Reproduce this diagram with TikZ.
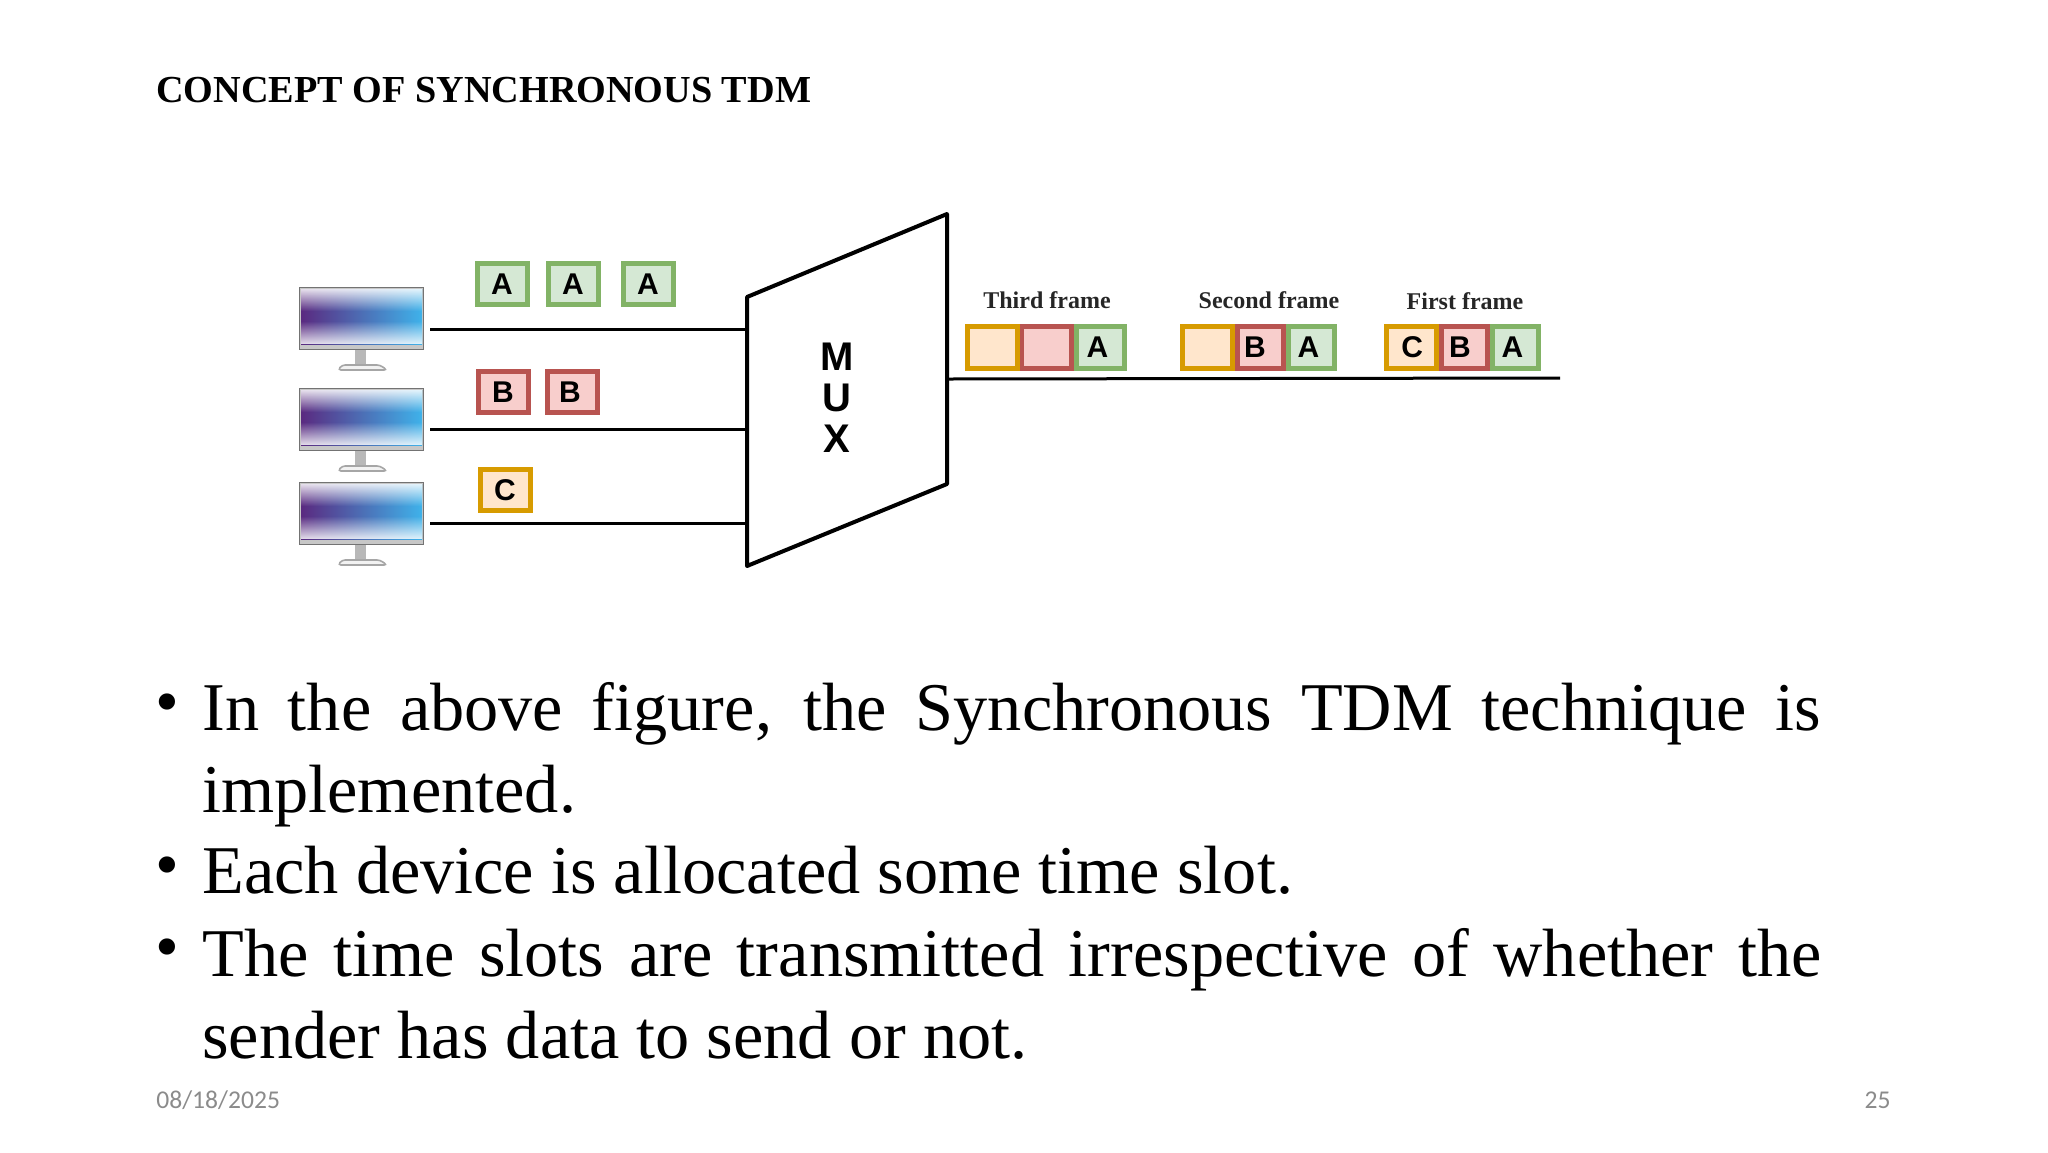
\documentclass[tikz,border=0pt]{standalone}
\usepackage{fontspec}
\setmainfont{Liberation Serif}
\setsansfont{Liberation Sans}
\newfontfamily\footfont{Carlito}
\usetikzlibrary{fadings}
\definecolor{greenline}{HTML}{82B366}
\definecolor{greenfill}{HTML}{D5E8D4}
\definecolor{redline}{HTML}{B85450}
\definecolor{redfill}{HTML}{F8CECC}
\definecolor{orangeline}{HTML}{D79B00}
\definecolor{orangefill}{HTML}{FFE6CC}
\definecolor{footgrey}{HTML}{8B8B8B}
\definecolor{screenleft}{HTML}{5A2A80}
\definecolor{screenmid}{HTML}{7F9AD8}
\definecolor{screenright}{HTML}{3FB2EA}
\tikzset{
    slot/.style={draw,line width=2.5pt,inner sep=0pt,minimum width=25pt,minimum height=20.5pt,
        font=\sffamily\bfseries\fontsize{15}{15}\selectfont},
    slotA/.style={slot,draw=greenline,fill=greenfill},
    slotB/.style={slot,draw=redline,fill=redfill},
    slotC/.style={slot,draw=orangeline,fill=orangefill},
    tall/.style={minimum height=21pt},
    framelabel/.style={font=\bfseries\fontsize{12}{12}\selectfont,text=black!85},
    wire/.style={line width=1.5pt},
    bodytext/.style={anchor=north west,inner sep=0pt,text width=809.5pt,align=justify,
        font=\fontsize{34.15}{41}\selectfont},
    bulletmark/.style={inner sep=0pt,font=\fontsize{34}{34}\selectfont},
    footnum/.style={inner sep=0pt,text=footgrey,font=\footfont\fontsize{12.8}{12.8}\selectfont},
}
\begin{document}
\begin{tikzpicture}[x=.5pt,y=-.5pt]
    \useasboundingbox (0,0) rectangle (2048,1152);

    \node[anchor=west,inner sep=0pt,font=\bfseries\fontsize{19.1}{19.1}\selectfont] (title) at (156,90) {CONCEPT OF SYNCHRONOUS TDM};

    % monitors
    \foreach \name/\ytop in {monA/287,monB/388,monC/482} {
        \node[fill=black!22,draw=black!55,line width=.4pt,inner sep=0pt,minimum width=62pt,minimum height=31pt] (\name) at (361.5,\ytop+31.5) {};
        \shade[left color=screenleft,middle color=screenmid,right color=screenright] (301,\ytop+2) rectangle (422,\ytop+57);
        \fill[white,opacity=.85,path fading=south] (301,\ytop+2) rectangle (422,\ytop+24);
        \fill[white,opacity=.85,path fading=north] (301,\ytop+34) rectangle (422,\ytop+57);
        \fill[black!28] (355,\ytop+63) rectangle (366,\ytop+78);
        \draw[black!35,fill=black!5,line width=.8pt,rounded corners=1.5pt] (338,\ytop+83) -- (342,\ytop+78) -- (380,\ytop+78) -- (387,\ytop+83) -- cycle;
    }

    % mux
    \coordinate (muxTL) at (747,297);
    \coordinate (muxTR) at (947,214);
    \coordinate (muxBR) at (947,484);
    \coordinate (muxBL) at (747,566);
    \draw[wire,line width=2pt,line join=round] (muxTL) -- (muxTR) -- (muxBR) -- (muxBL) -- cycle;
    \node[align=center,inner sep=0pt,font=\sffamily\bfseries\fontsize{20}{20.5}\selectfont] (mux) at (837,398) {M\\U\\X};

    % wires
    \coordinate (outA) at (430,329);
    \coordinate (outB) at (430,429);
    \coordinate (outC) at (430,523);
    \coordinate (inA) at (747,329);
    \coordinate (inB) at (747,429);
    \coordinate (inC) at (747,523);
    \coordinate (muxOut) at (947,379);
    \coordinate (lineEnd) at (1560,378);
    \draw[wire] (outA) -- (inA);
    \draw[wire] (outB) -- (inB);
    \draw[wire] (outC) -- (inC);
    \draw[wire] (muxOut) -- (lineEnd);

    % input slots
    \node[slotA] (a1) at (502,284) {A};
    \node[slotA] (a2) at (573,284) {A};
    \node[slotA] (a3) at (648,284) {A};
    \node[slotB] (b1) at (503,392) {B};
    \node[slotB] (b2) at (572,392) {\kern-2pt B};
    \node[slotC] (c1) at (505,490) {C};

    % third frame
    \node[slotA,tall,minimum width=24pt] (tA) at (1100,347) {\kern-2.6pt A};
    \node[slotB,tall] (tB) at (1046,347) {};
    \node[slotC,tall] (tC) at (992,347) {};
    \node[framelabel] (tL) at (1047,300) {Third frame};

    % second frame
    \node[slotA,tall,minimum width=23pt] (sA) at (1311,347) {\kern-2.6pt A};
    \node[slotB,tall,minimum width=23pt] (sB) at (1260,347) {\kern-5pt B};
    \node[slotC,tall] (sC) at (1207,347) {};
    \node[framelabel] (sL) at (1269,300) {Second frame};

    % first frame
    \node[slotC,tall] (fC) at (1411,347) {C\kern-1.3pt};
    \node[slotA,tall,minimum width=23pt] (fA) at (1515,347) {\kern-2.6pt A};
    \node[slotB,tall,minimum width=23pt] (fB) at (1464,347) {\kern-4pt B};
    \node[framelabel] (fL) at (1465,301) {First frame};

    % bullets
    \node[bulletmark] (dotA) at (167,709) {•};
    \node[bulletmark] (dotB) at (167,872) {•};
    \node[bulletmark] (dotC) at (167,954) {•};
    \node[bodytext] (txtA) at (202,682) {In the above figure, the Synchronous TDM technique is \mbox{implemented.}};
    \node[bodytext] (txtB) at (202,846) {Each device is allocated some time slot.};
    \node[bodytext] (txtC) at (202,928) {The time slots are transmitted irrespective of whether the \mbox{sender} has data to send or not.};

    \node[footnum,anchor=west] (date) at (156,1100) {08/18/2025};
    \node[footnum,anchor=east] (page) at (1891,1100) {25};
\end{tikzpicture}
\end{document}
